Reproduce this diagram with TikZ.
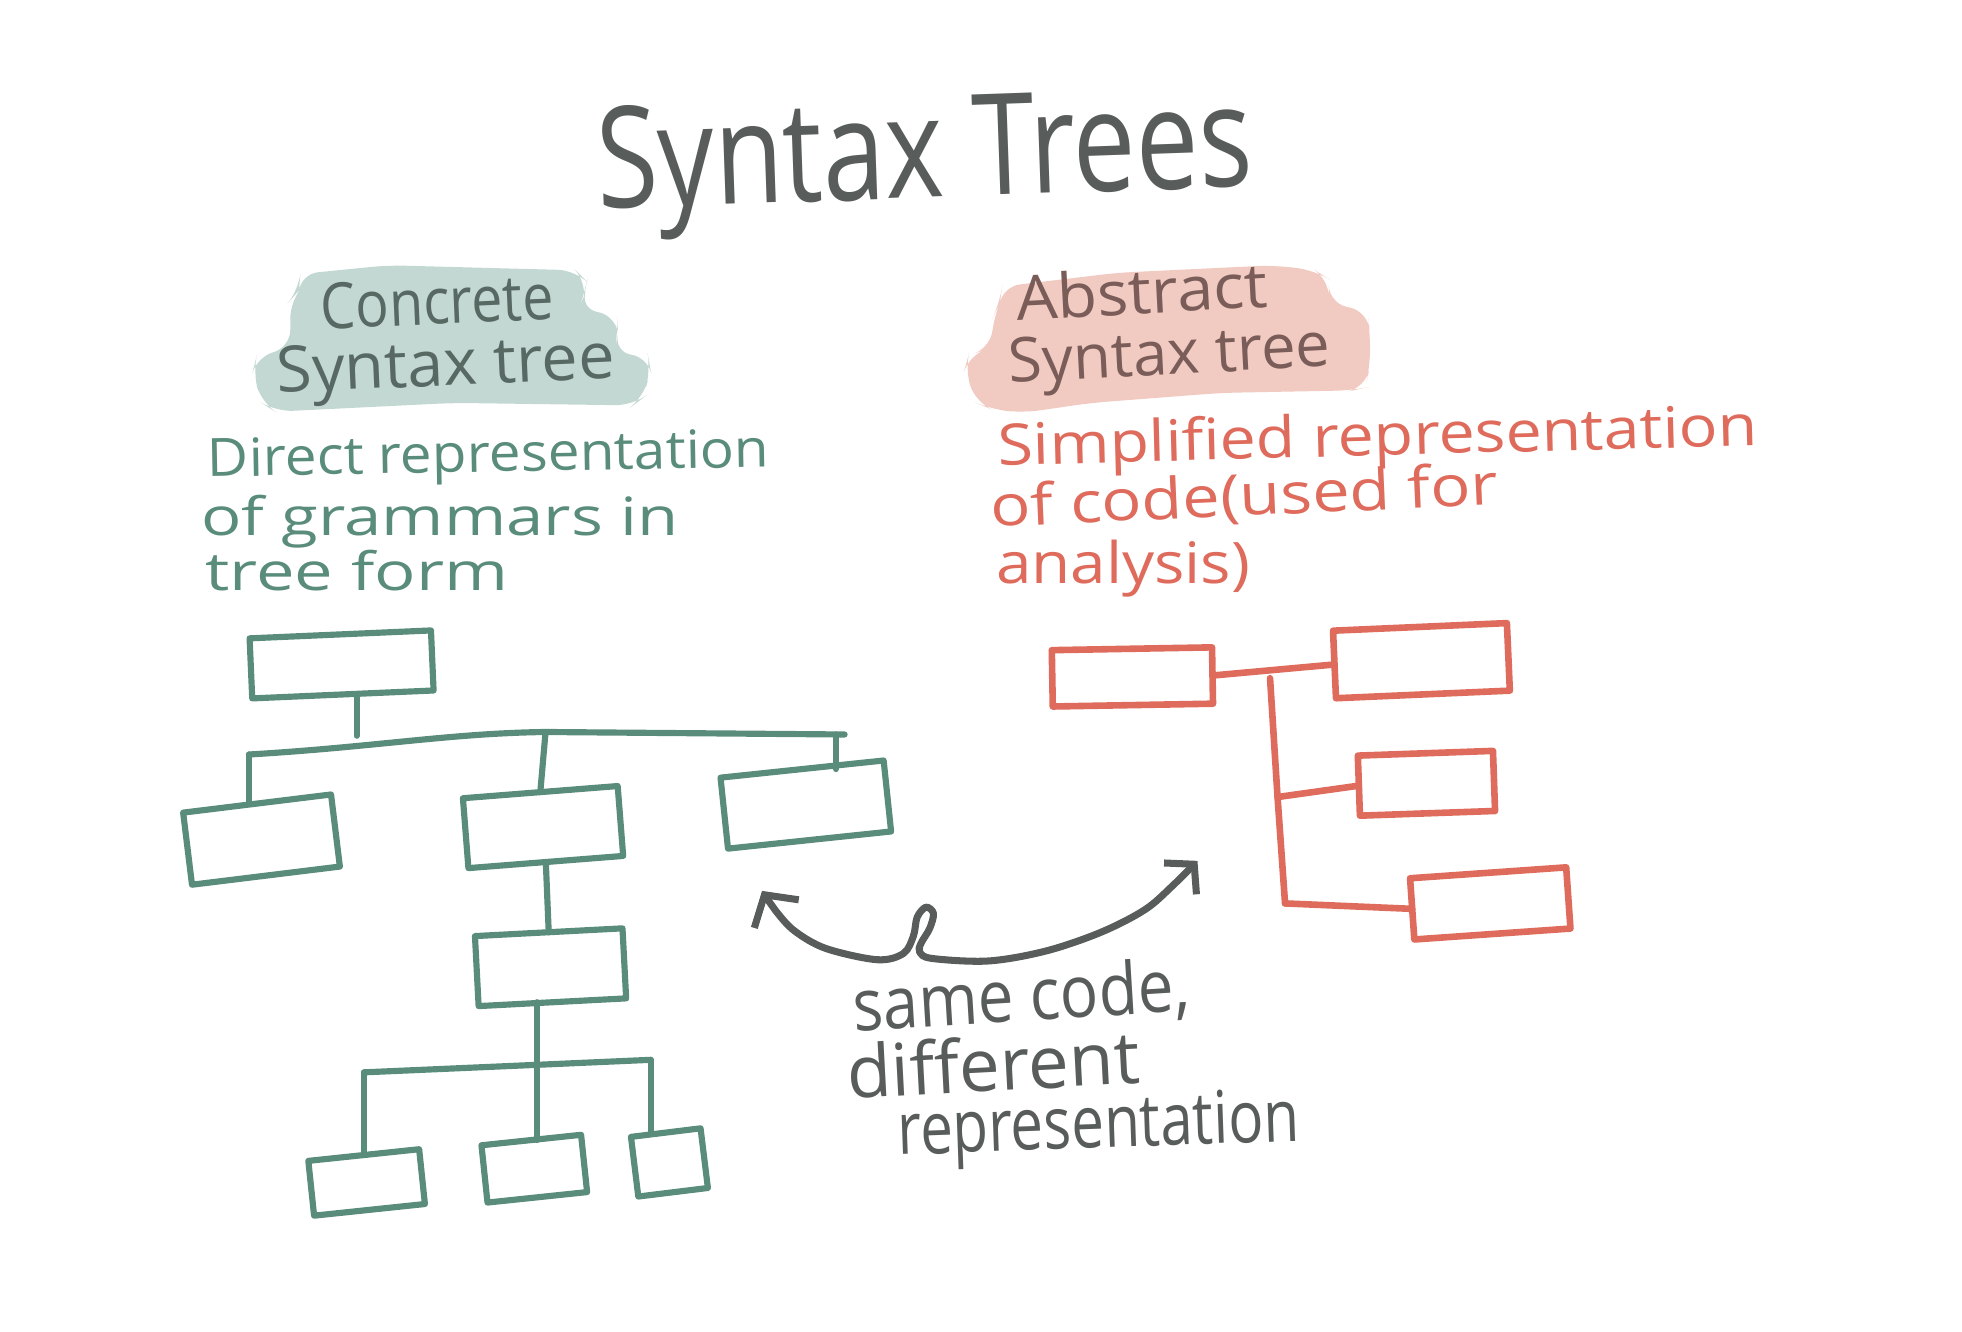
\documentclass[tikz,border=0pt]{standalone}
\usepackage{fontspec}
\setmainfont{Open Sans}
\usepackage{graphicx}
\usetikzlibrary{arrows.meta}
\definecolor{ink}{HTML}{585C5A}
\definecolor{tgreen}{HTML}{5A8C7C}
\definecolor{tred}{HTML}{DE6B5C}
\definecolor{hlgreen}{HTML}{C3D8D2}
\definecolor{hlpink}{HTML}{F1CAC2}
\definecolor{cstink}{HTML}{586964}
\definecolor{astink}{HTML}{7A5C58}
\newcommand\fitw[2]{\resizebox{#1}{\height}{#2}}
\begin{document}
\begin{tikzpicture}[x=0.01cm,y=-0.01cm,
  txt/.style={anchor=base west, inner sep=0pt, outer sep=0pt},
  gbox/.style={draw=tgreen, line width=1.4pt, rectangle, inner sep=0pt, outer sep=0pt, line join=round},
  rbox/.style={draw=tred, line width=1.5pt, rectangle, inner sep=0pt, outer sep=0pt, line join=round},
  gline/.style={draw=tgreen, line width=1.4pt, line cap=round},
  rline/.style={draw=tred, line width=1.5pt, line cap=round},
  arrline/.style={draw=ink, line width=1.6pt, line cap=round, line join=round},
  hl/.style={rounded corners=4pt}
]
\useasboundingbox (0,0) rectangle (1568,1064);

% highlights
\fill[hlgreen, hl] (240,219) -- (310,212) -- (460,216) -- (469,225) -- (467,236) -- (463,246) -- (493,253) -- (494,267) -- (491,282) -- (518,285) -- (520,296) -- (514,318) -- (506,324) -- (363,322) -- (220,329) -- (209,322) -- (202,297) -- (205,285) -- (232,278) -- (232,240) -- (239,232) -- cycle;
\fill[hlpink, hl] (801,229) -- (893,218) -- (1018,212) -- (1051,216) -- (1062,223) -- (1062,242) -- (1093,249) -- (1095,268) -- (1095,292) -- (1091,310) -- (1081,312) -- (976,314) -- (872,322) -- (817,330) -- (792,327) -- (780,322) -- (771,295) -- (774,284) -- (792,278) -- (794,253) -- (799,242) -- cycle;

% title
\node[txt, font=\fontsize{32}{36}\selectfont, text=ink, rotate=2] (title) at (478,167) {\fitw{5.24cm}{Syntax Trees}};

% concrete label
\node[txt, font=\fontsize{14.5}{17}\selectfont, text=cstink, rotate=2.5] (cst1) at (257,263) {\fitw{1.86cm}{Concrete}};
\node[txt, font=\fontsize{14.5}{17}\selectfont, text=cstink, rotate=2.5] (cst2) at (222,314) {\fitw{2.70cm}{Syntax tree}};
% abstract label
\node[txt, font=\fontsize{14}{16}\selectfont, text=astink, rotate=3] (ast1) at (813,256) {\fitw{2.01cm}{Abstract}};
\node[txt, font=\fontsize{14}{16}\selectfont, text=astink, rotate=3] (ast2) at (807,306) {\fitw{2.57cm}{Syntax tree}};

% green description
\node[txt, font=\fontsize{12}{14}\selectfont, text=tgreen, rotate=1] (gd1) at (166,381) {\fitw{4.49cm}{Direct representation}};
\node[txt, font=\fontsize{12}{14}\selectfont, text=tgreen] (gd2) at (161,428) {\fitw{3.81cm}{of grammars in}};
\node[txt, font=\fontsize{12}{14}\selectfont, text=tgreen] (gd3) at (164,472) {\fitw{2.42cm}{tree form}};

% red description
\node[txt, font=\fontsize{13}{15}\selectfont, text=tred, rotate=1.5] (rd1) at (798,372) {\fitw{6.07cm}{Simplified representation}};
\node[txt, font=\fontsize{13}{15}\selectfont, text=tred, rotate=2.5] (rd2) at (792,421) {\fitw{4.06cm}{of code(used for}};
\node[txt, font=\fontsize{13}{15}\selectfont, text=tred] (rd3) at (796,466) {\fitw{2.03cm}{analysis)}};

% gray caption
\node[txt, font=\fontsize{16.5}{19}\selectfont, text=ink, rotate=3.5] (cap1) at (683,824) {\fitw{2.69cm}{same code,}};
\node[txt, font=\fontsize{16.5}{19}\selectfont, text=ink, rotate=3] (cap2) at (678,878) {\fitw{2.34cm}{different}};
\node[txt, font=\fontsize{16.5}{19}\selectfont, text=ink, rotate=2] (cap3) at (718,923) {\fitw{3.21cm}{representation}};

% green tree boxes
\node[gbox, minimum width=1.45cm, minimum height=0.48cm, rotate=2.5] (gTop) at (273,531) {};
\node[gbox, minimum width=1.19cm, minimum height=0.58cm, rotate=7] (gL) at (209,671) {};
\node[gbox, minimum width=1.24cm, minimum height=0.56cm, rotate=4.5] (gM) at (434,661) {};
\node[gbox, minimum width=1.31cm, minimum height=0.57cm, rotate=6] (gR) at (644,643) {};
\node[gbox, minimum width=1.18cm, minimum height=0.56cm, rotate=3] (gM2) at (440,773) {};
\node[gbox, minimum width=0.89cm, minimum height=0.44cm, rotate=6] (gB1) at (293,945) {};
\node[gbox, minimum width=0.80cm, minimum height=0.46cm, rotate=6] (gB2) at (427,934) {};
\node[gbox, minimum width=0.56cm, minimum height=0.48cm, rotate=7] (gB3) at (535,929) {};

% green connectors
\coordinate (gstem) at (285,588);
\coordinate (gbusL) at (199,603);
\coordinate (gbusM) at (436,585);
\coordinate (gbusR) at (675,587);
\coordinate (gdropR) at (668,587);
\draw[gline] (gstem |- gTop.south) -- (gstem);
\draw[gline] (gbusL) .. controls (300,597) and (360,586) .. (gbusM) -- (gbusR);
\draw[gline] (gbusL) -- (gbusL |- gL.north);
\draw[gline] (gbusM) -- (gM.north);
\draw[gline] (gdropR) -- (gdropR |- gR.north);
\draw[gline] (gM.south) -- (gM2.north);
\coordinate (gbus2L) at (291,857);
\coordinate (gbus2M) at (429,851);
\coordinate (gbus2R) at (520,847);
\draw[gline] (gbus2M |- gM2.south) -- (gbus2M);
\draw[gline] (gbus2L) -- (gbus2M) -- (gbus2R);
\draw[gline] (gbus2L) -- (gbus2L |- gB1.north);
\draw[gline] (gbus2M) -- (gbus2M |- gB2.north);
\draw[gline] (gbus2R) -- (gbus2R |- gB3.north);

% red tree
\node[rbox, minimum width=1.28cm, minimum height=0.45cm, rotate=1] (rA) at (905,541) {};
\node[rbox, minimum width=1.39cm, minimum height=0.54cm, rotate=2.5] (rB) at (1136,528) {};
\node[rbox, minimum width=1.08cm, minimum height=0.48cm, rotate=2] (rC) at (1140,626) {};
\node[rbox, minimum width=1.25cm, minimum height=0.49cm, rotate=4] (rD) at (1191,722) {};
\draw[rline] (rA.east) -- (rB.west);
\coordinate (rT1) at (1015,542);
\coordinate (rT2) at (1021,637);
\coordinate (rT3) at (1027,722);
\draw[rline] (rT1) -- (rT2) -- (rT3);
\draw[rline] (rT2) -- (rC.west);
\draw[rline] (rT3) -- (rD.west);

% double arrow
\coordinate (arrL) at (609,712);
\coordinate (arrR) at (957,688);
\draw[arrline, {Straight Barb[length=1.8mm,width=4.2mm]}-{Straight Barb[length=1.6mm,width=3.6mm]}]
  plot[smooth, tension=0.55] coordinates {(arrL) (620,728) (635,744) (660,758) (701,767) (722,762) (730,748) (733,733) (740,725) (746,730) (743,742) (736,754) (735,761) (745,766) (790,768) (836,760) (880,745) (915,727) (937,708) (arrR)};
\end{tikzpicture}
\end{document}
